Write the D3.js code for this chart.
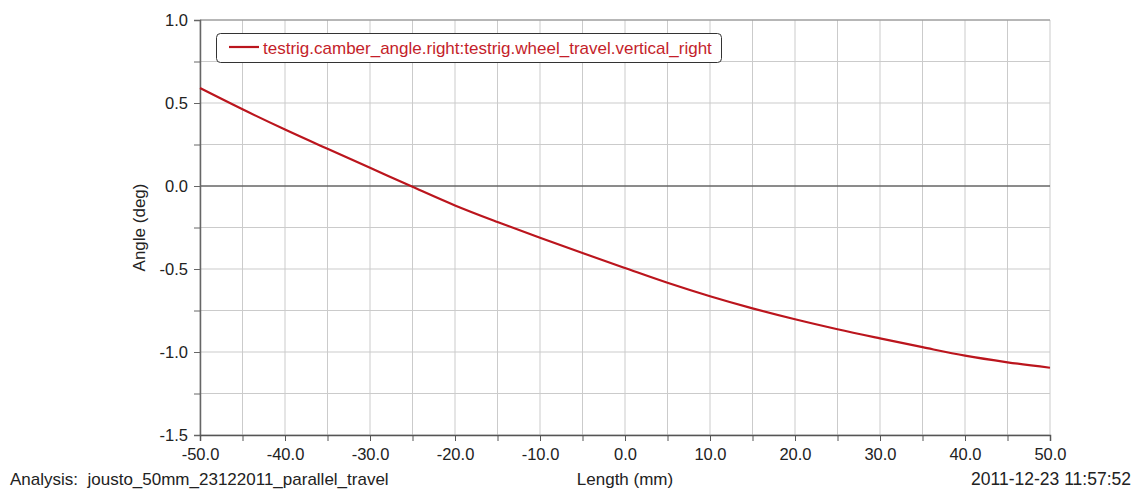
<!DOCTYPE html>
<html><head><meta charset="utf-8">
<script src="https://cdn.jsdelivr.net/npm/d3@7"></script>
<style>body{margin:0;background:#fff}svg{display:block;font-family:"Liberation Sans",Arial,sans-serif}</style>
</head><body>
<script>
const travel = [-50,-45,-40,-35,-30,-25,-20,-15,-10,-5,0,5,10,15,20,25,30,35,40,45,50];
const camber = [0.59,0.462,0.340,0.224,0.110,-0.005,-0.117,-0.217,-0.312,-0.404,-0.494,-0.583,-0.664,-0.737,-0.803,-0.863,-0.918,-0.971,-1.022,-1.062,-1.095];
const xTicks = [-50,-40,-30,-20,-10,0,10,20,30,40,50];
const yTicks = [1.0,0.5,0.0,-0.5,-1.0,-1.5];
const seriesName = "testrig.camber_angle.right:testrig.wheel_travel.vertical_right";
const xLabel = "Length (mm)", yLabel = "Angle (deg)";
const analysis = "Analysis:  jousto_50mm_23122011_parallel_travel";
const stamp = "2011-12-23 11:57:52";

const W=1142,H=489;
const svg=d3.select("body").append("svg").attr("width",W).attr("height",H);
const x=d3.scaleLinear().domain([-50,50]).range([200,1050]);
const y=d3.scaleLinear().domain([-1.5,1.0]).range([435,20]);
const fmt=d=>d3.format(".1f")(d).replace("\u2212","-");

const xGrid=d3.range(-50,50.01,5), yGrid=d3.range(-1.5,1.001,0.25);
const g=svg.append("g");
g.selectAll(".vg").data(xGrid).join("line").attr("x1",d=>x(d)).attr("x2",d=>x(d)).attr("y1",20).attr("y2",435).attr("stroke","#cbcbcb").attr("stroke-width",1);
g.selectAll(".hg").data(yGrid).join("line").attr("y1",d=>y(d)).attr("y2",d=>y(d)).attr("x1",200).attr("x2",1050).attr("stroke","#cbcbcb").attr("stroke-width",1);
g.append("line").attr("x1",200).attr("x2",1050).attr("y1",y(1)).attr("y2",y(1)).attr("stroke","#888");
g.append("line").attr("x1",200).attr("x2",1050).attr("y1",y(0)).attr("y2",y(0)).attr("stroke","#333");

const ya=d3.axisLeft(y).tickValues(yGrid).tickSize(6).tickFormat(d=>yTicks.some(t=>Math.abs(t-d)<1e-9)?fmt(d):"");
const yg=svg.append("g").attr("transform","translate(200,0)").call(ya);
yg.select(".domain").attr("stroke","#666").attr("stroke-width",1.5);
yg.selectAll(".tick line").attr("stroke","#666");
yg.selectAll("text").attr("font-size",16.5).attr("fill","#222").attr("x",-12).attr("dy","0.36em");
const xa=d3.axisBottom(x).tickValues(xGrid).tickSize(6).tickFormat(d=>xTicks.includes(d)?fmt(d):"");
const xg=svg.append("g").attr("transform","translate(0,435)").call(xa);
xg.select(".domain").attr("stroke","#555").attr("stroke-width",1.5);
xg.selectAll(".tick line").attr("stroke","#555");
xg.selectAll("text").attr("font-size",16.5).attr("fill","#222").attr("y",25).attr("dy",0);

const line=d3.line().x((d,i)=>x(travel[i])).y(d=>y(d)).curve(d3.curveMonotoneX);
svg.append("path").datum(camber).attr("d",line).attr("fill","none").attr("stroke","#bb151d").attr("stroke-width",2.2);

svg.append("rect").attr("x",216.5).attr("y",33.5).attr("width",505).attr("height",29).attr("rx",4).attr("fill","#fff").attr("stroke","#333");
svg.append("line").attr("x1",229).attr("x2",259).attr("y1",47).attr("y2",47).attr("stroke","#bb151d").attr("stroke-width",2.2);
svg.append("text").attr("x",263).attr("y",53.5).attr("font-size",17).attr("fill","#c41e2a").text(seriesName);

svg.append("text").attr("transform","translate(145,227.5) rotate(-90)").attr("text-anchor","middle").attr("font-size",17).attr("fill","#222").text(yLabel);
svg.append("text").attr("x",625).attr("y",485).attr("text-anchor","middle").attr("font-size",17).attr("fill","#222").text(xLabel);
svg.append("text").attr("x",10).attr("y",485).attr("font-size",17).attr("fill","#222").style("white-space","pre").text(analysis);
svg.append("text").attr("x",1131).attr("y",485).attr("text-anchor","end").attr("font-size",17.5).attr("fill","#222").text(stamp);
</script>
</body></html>
